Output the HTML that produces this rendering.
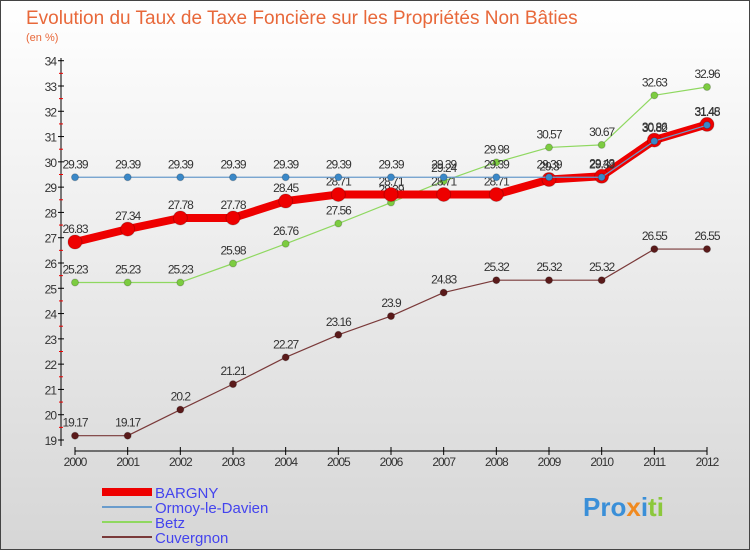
<!DOCTYPE html>
<html><head><meta charset="utf-8">
<style>
body{margin:0}
#c{position:relative;width:750px;height:550px;font-family:"Liberation Sans",sans-serif}
svg text{font-family:"Liberation Sans",sans-serif}
</style></head>
<body>
<div id="c">
<svg id="s" width="750" height="550" xmlns="http://www.w3.org/2000/svg">
<defs><linearGradient id="bg" x1="0" y1="0" x2="0" y2="1"><stop offset="0" stop-color="#ffffff"/><stop offset="1" stop-color="#d6d6d6"/></linearGradient></defs>
<rect x="0.5" y="0.5" width="749" height="549" fill="url(#bg)" stroke="#444"/>
<text x="26" y="24" font-size="19" fill="#e8683a">Evolution du Taux de Taxe Foncière sur les Propriétés Non Bâties</text>
<text x="26" y="41" font-size="11" fill="#e8683a">(en %)</text>
<g id="axes"></g><g id="series"></g>
<g>
<line x1="102" y1="492" x2="152" y2="492" stroke="#e00" stroke-width="8"/>
<text x="155" y="498" font-size="15" fill="#4444ee">BARGNY</text>
<line x1="102" y1="507" x2="152" y2="507" stroke="#6a9ccc" stroke-width="2"/>
<text x="155" y="513" font-size="15" fill="#4444ee">Ormoy-le-Davien</text>
<line x1="102" y1="522" x2="152" y2="522" stroke="#8fd860" stroke-width="2"/>
<text x="155" y="528" font-size="15" fill="#4444ee">Betz</text>
<line x1="102" y1="537" x2="152" y2="537" stroke="#7a3a3a" stroke-width="2"/>
<text x="155" y="543" font-size="15" fill="#4444ee">Cuvergnon</text>
</g>
<text x="583" y="516" font-size="26" font-weight="bold" fill="#3a8fd8">Pro<tspan fill="#f08a20">x</tspan>i<tspan fill="#8cc83c">ti</tspan></text>
</svg>
</div>
<script>
const years=[2000,2001,2002,2003,2004,2005,2006,2007,2008,2009,2010,2011,2012];
const bargny=[26.83,27.34,27.78,27.78,28.45,28.71,28.71,28.71,28.71,29.30,29.43,30.86,31.48];
const ormoy=[29.39,29.39,29.39,29.39,29.39,29.39,29.39,29.39,29.39,29.39,29.39,30.82,31.45];
const betz=[25.23,25.23,25.23,25.98,26.76,27.56,28.39,29.24,29.98,30.57,30.67,32.63,32.96];
const cuvergnon=[19.17,19.17,20.2,21.21,22.27,23.16,23.9,24.83,25.32,25.32,25.32,26.55,26.55];
const yTicks=[19,20,21,22,23,24,25,26,27,28,29,30,31,32,33,34];
const NS="http://www.w3.org/2000/svg";
function X(i){return 75+i*(707-75)/(years.length-1);}
function Y(v){return 440-(v-19)*(440-60.7)/15;}
function mk(t,a,p){const e=document.createElementNS(NS,t);for(const k in a)e.setAttribute(k,a[k]);p.appendChild(e);return e;}
const ax=document.getElementById('axes');
const yl=mk('line',{x1:61,y1:58,x2:61,y2:446,stroke:'#000'},ax);


yTicks.forEach(v=>{
 mk('line',{x1:58,y1:Y(v),x2:64,y2:Y(v),stroke:'#000'},ax);
 if(v<34)mk('line',{x1:59,y1:Y(v+0.5),x2:63,y2:Y(v+0.5),stroke:'#e00'},ax);
 const t=mk('text',{x:56,y:Y(v)+5,'font-size':12,fill:'#333','text-anchor':'end','letter-spacing':'-1'},ax);
 t.textContent=v;
 
 
});
const xl=mk('line',{x1:75,y1:451,x2:707,y2:451,stroke:'#000'},ax);


years.forEach((yr,i)=>{
 mk('line',{x1:X(i),y1:447,x2:X(i),y2:455,stroke:'#000'},ax);
 const t=mk('text',{x:X(i),y:466,'font-size':12,fill:'#333','text-anchor':'middle','letter-spacing':'-1'},ax);
 t.textContent=yr;
 
 
});
const sg=document.getElementById('series');
function draw(name,vals,col,w,r,dot){
 const g=mk('g',{},sg);
 
 
 mk('polyline',{points:vals.map((v,i)=>X(i)+','+Y(v)).join(' '),fill:'none',stroke:col,'stroke-width':w,'stroke-linejoin':'round'},g);
 vals.forEach((v,i)=>{
  const c=mk('circle',{cx:X(i),cy:Y(v),r:r,fill:dot,stroke:'#0003'},g);
  
  
  const t=mk('text',{x:X(i),y:Y(v)-9,'font-size':12,fill:'#333','text-anchor':'middle','letter-spacing':'-1'},g);
  t.textContent=String(v).replace(/\.(\d)0$/,'.$1').replace(/\.0$/,'');
  
  
 });
}
draw('cuvergnon',cuvergnon,'#7a3a3a',1.2,3.5,'#5a1a1a');
draw('betz',betz,'#8fd860',1.2,3.5,'#7ccc40');
draw('bargny',bargny,'#e00',8,7,'#e00');
draw('ormoy',ormoy,'#6a9ccc',1.2,3.5,'#3a88c8');
</script>
</body></html>
